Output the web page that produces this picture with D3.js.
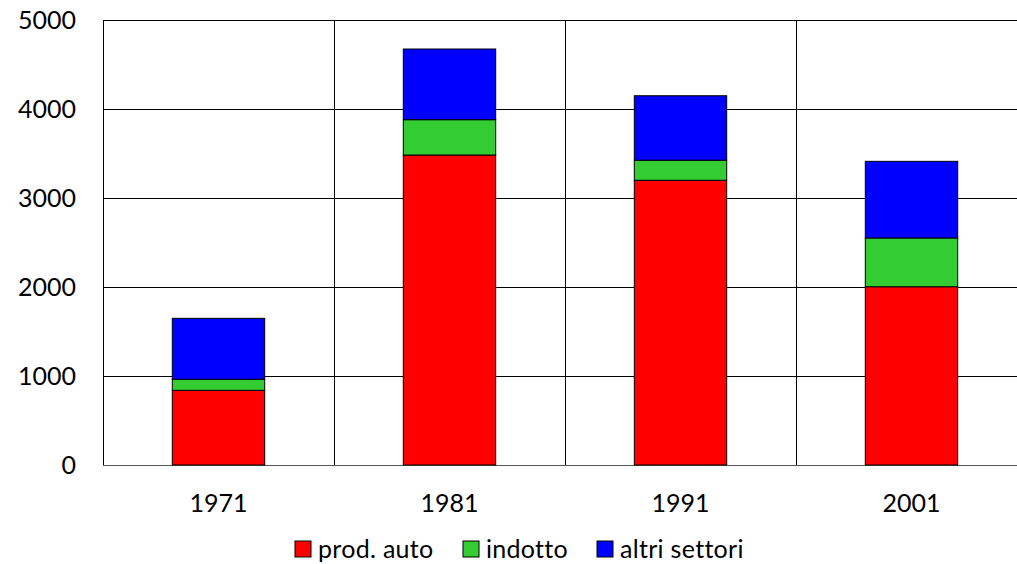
<!DOCTYPE html>
<html><head><meta charset="utf-8">
<script src="https://cdn.jsdelivr.net/npm/d3@7"></script>
<style>html,body{margin:0;padding:0;background:#fff;overflow:hidden}text{font-family:Lato,"Open Sans",sans-serif;fill:#000}</style>
</head><body>
<svg id="c" width="1017" height="564"></svg>
<script>
const categories = ["1971","1981","1991","2001"];
const seriesNames = ["prod. auto","indotto","altri settori"];
const prodAuto = [839, 3483, 3199, 2003];
const indotto = [124, 397, 225, 548];
const altriSettori = [685, 794, 725, 861];
const yTicks = [0,1000,2000,3000,4000,5000];
const colors = ["#ff0000","#33cc33","#0000ff"];

const svg = d3.select("#c");
const L=103, T=20, R=1027, B=465;
const x = d3.scaleBand().domain(categories).range([L,R]).padding(0);
const y = d3.scaleLinear().domain([0,5000]).range([B,T]);

// grid
svg.append("g").selectAll("line").data(yTicks).join("line")
  .attr("x1",L).attr("x2",R).attr("y1",d=>Math.round(y(d))+0.5).attr("y2",d=>Math.round(y(d))+0.5)
  .attr("stroke",d=>d===0?"#595959":"#000").attr("stroke-width",1);
const vEdges = categories.map(c=>x(c)).concat([R]);
svg.append("g").selectAll("line").data(vEdges).join("line")
  .attr("x1",d=>Math.round(d)+0.5).attr("x2",d=>Math.round(d)+0.5).attr("y1",T).attr("y2",B)
  .attr("stroke","#000").attr("stroke-width",1);

// stacked data
const rows = categories.map((c,i)=>({cat:c,"prod. auto":prodAuto[i],"indotto":indotto[i],"altri settori":altriSettori[i]}));
const stack = d3.stack().keys(seriesNames)(rows);
const bw = x.bandwidth()*0.4;
svg.append("g").selectAll("g").data(stack).join("g")
  .attr("fill",(d,i)=>colors[i])
  .selectAll("rect").data(d=>d).join("rect")
  .attr("x",d=>x(d.data.cat)+(x.bandwidth()-bw)/2)
  .attr("width",bw)
  .attr("y",d=>y(d[1]))
  .attr("height",d=>y(d[0])-y(d[1]))
  .attr("stroke","#000").attr("stroke-width",1);

// y axis labels
const yAxis = d3.axisLeft(y).tickValues(yTicks).tickSize(0).tickPadding(0).tickFormat(d3.format("d"));
const ya = svg.append("g").attr("transform",`translate(76,0)`).call(yAxis);
ya.select(".domain").remove();
ya.selectAll("text").attr("font-size",25).attr("font-family","Lato").attr("dy","0.35em");

// x axis labels
const xAxis = d3.axisBottom(x).tickSize(0).tickPadding(0);
const xa = svg.append("g").attr("transform",`translate(0,494)`).call(xAxis);
xa.select(".domain").remove();
xa.selectAll("text").attr("font-size",25).attr("font-family","Lato").attr("dy","0.71em");

// legend
const legX = [295, 463, 597];
const lg = svg.append("g").selectAll("g").data(seriesNames).join("g")
  .attr("transform",(d,i)=>`translate(${legX[i]},541)`);
lg.append("rect").attr("width",16).attr("height",16).attr("fill",(d,i)=>colors[i]).attr("stroke","#000").attr("stroke-width",1);
lg.append("text").attr("x",23).attr("y",8).attr("dy","0.35em").attr("font-size",25).attr("letter-spacing",0.3).text(d=>d);
</script>
</body></html>
